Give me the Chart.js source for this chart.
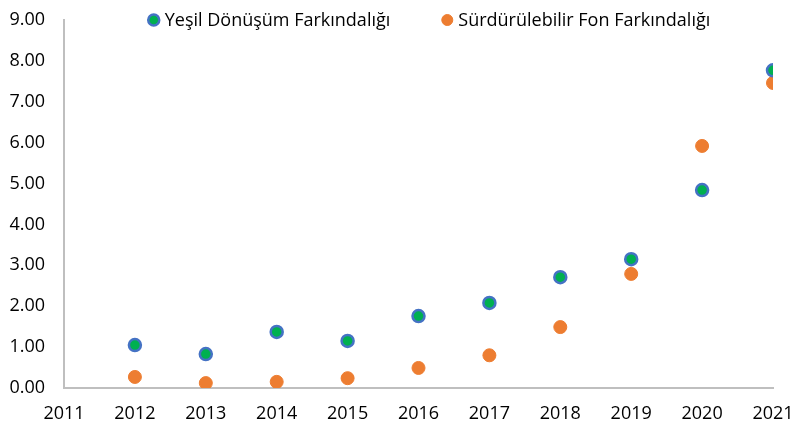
<!DOCTYPE html>
<html>
<head>
<meta charset="utf-8">
<script src="https://cdn.jsdelivr.net/npm/chart.js@4.4.0/dist/chart.umd.min.js"></script>
<style>
  html, body { margin: 0; padding: 0; background: #fff; }
  #wrap { width: 792px; height: 427px; }
</style>
</head>
<body>
<div id="wrap"><canvas id="myChart" width="792" height="427"></canvas></div>
<script>
// years on the x axis
const years = [2012, 2013, 2014, 2015, 2016, 2017, 2018, 2019, 2020, 2021];
// values
const yesilValues = [1.05, 0.83, 1.37, 1.15, 1.76, 2.08, 2.71, 3.15, 4.84, 7.77];
const fonValues = [0.27, 0.12, 0.15, 0.24, 0.49, 0.80, 1.49, 2.79, 5.92, 7.46];
const seriesNames = ['Yeşil Dönüşüm Farkındalığı', 'Sürdürülebilir Fon Farkındalığı'];

const FONT = "'Open Sans', 'Noto Sans', sans-serif";

function toPoints(vals) {
  const pts = [];
  for (let i = 0; i < years.length; i++) {
    pts.push({ x: years[i], y: vals[i] });
  }
  return pts;
}

// legend drawn over the plot, like the excel one
const topLegend = {
  id: 'topLegend',
  afterDraw(chart) {
    const c = chart.ctx;
    const sets = chart.data.datasets;
    c.save();
    c.font = '18px ' + FONT;
    c.textBaseline = 'middle';
    const gap = 57, textOff = 11;
    let total = 0;
    sets.forEach((ds, i) => {
      total += textOff + c.measureText(ds.label).width;
      if (i < sets.length - 1) total += gap;
    });
    let x = 432 - total / 2;
    const y = 20;
    sets.forEach(ds => {
      c.beginPath();
      c.arc(x, y, 5.5, 0, Math.PI * 2);
      c.fillStyle = ds.backgroundColor;
      c.fill();
      c.lineWidth = ds.borderWidth;
      c.strokeStyle = ds.borderColor;
      c.stroke();
      c.fillStyle = '#000';
      c.fillText(ds.label, x + textOff, y + 1);
      x += textOff + c.measureText(ds.label).width + gap;
    });
    c.restore();
  }
};

const ctx = document.getElementById('myChart').getContext('2d');
Chart.defaults.font.family = FONT;
Chart.defaults.color = '#000';

const chart = new Chart(ctx, {
  type: 'scatter',
  data: {
    datasets: [{
      label: seriesNames[0],
      data: toPoints(yesilValues),
      backgroundColor: '#00B050',
      borderColor: '#4472C4',
      borderWidth: 2.5,
      pointRadius: 6,
      pointHoverRadius: 6
    }, {
      label: seriesNames[1],
      data: toPoints(fonValues),
      backgroundColor: '#ED7D31',
      borderColor: '#ED7D31',
      borderWidth: 1,
      pointRadius: 6.5,
      pointHoverRadius: 6.5
    }]
  },
  options: {
    responsive: false,
    animation: false,
    layout: { padding: { top: 20, right: 0, left: 7, bottom: 0 } },
    plugins: {
      legend: { display: false },
      tooltip: { enabled: false }
    },
    scales: {
      x: {
        type: 'linear',
        min: 2011,
        max: 2021,
        ticks: {
          stepSize: 1,
          font: { size: 18 },
          padding: 15,
          maxRotation: 0,
          callback: v => String(v)
        },
        grid: { display: false, drawTicks: false },
        border: { color: '#BFBFBF', width: 2 },
        afterFit(scale) {
          scale.height = 39;
          scale.paddingLeft = 0;
          scale.paddingRight = 19;
        }
      },
      y: {
        min: 0,
        max: 9,
        ticks: {
          stepSize: 1,
          font: { size: 18 },
          padding: 19,
          callback: v => v.toFixed(2)
        },
        grid: { display: false, drawTicks: false },
        border: { color: '#BFBFBF', width: 2 },
        afterFit(scale) {
          scale.width = 57;
          scale.paddingTop = 0;
          scale.paddingBottom = 0;
        }
      }
    }
  },
  plugins: [topLegend]
});
</script>
</body>
</html>
